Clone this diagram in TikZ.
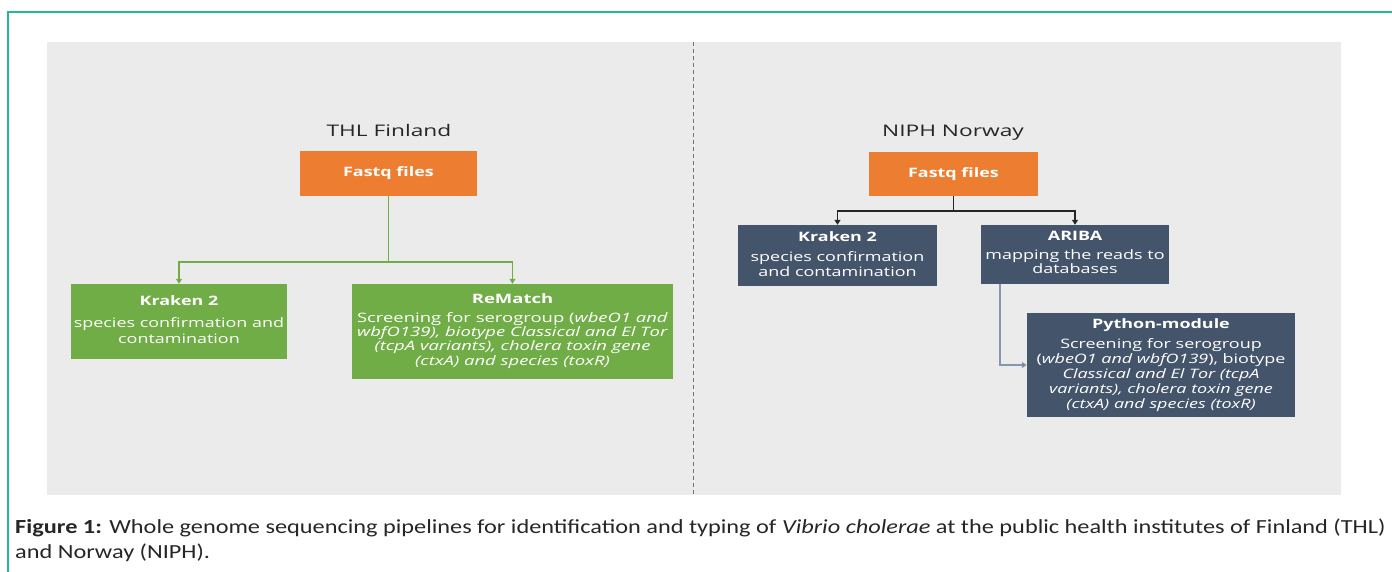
\documentclass[tikz,border=0pt]{standalone}
\usepackage{fontspec}
\setmainfont{Open Sans}
\newfontfamily\capfont{Carlito}
\usepackage{graphicx}
\usetikzlibrary{arrows.meta,calc}
\definecolor{teal1}{RGB}{38,182,154}
\definecolor{panel}{RGB}{235,235,235}
\definecolor{orng}{RGB}{237,125,49}
\definecolor{grn}{RGB}{112,173,71}
\definecolor{slate}{RGB}{68,84,106}
\definecolor{lslate}{RGB}{132,151,176}
\newcommand\sx{1.38}
% #1 stretch, #2 title, #3 body, #4 leading
\newcommand\boxtext[4]{\scalebox{#1}[1]{\fontsize{13}{#4}\selectfont\begin{tabular}{@{}c@{}}\textbf{#2}\\[5pt]#3\end{tabular}}}
\tikzset{
  box/.style={draw=none, inner sep=0pt, text=white, anchor=center},
  obox/.style={box, fill=orng},
  gbox/.style={box, fill=grn},
  sbox/.style={box, fill=slate},
  gline/.style={draw=grn, line width=1.1pt, -{Triangle[length=5pt,width=6pt]}},
  bline/.style={draw=black!85, line width=1.1pt, -{Triangle[length=5pt,width=6pt]}},
  lline/.style={draw=lslate, line width=1.3pt, -{Triangle[length=5pt,width=6pt,fill=black!70]}},
  ttl/.style={font=\fontsize{16}{19}\selectfont, text=black!85, anchor=base},
  captxt/.style={anchor=base west, inner sep=0pt, text=black!85},
}
\begin{document}
\begin{tikzpicture}[x=1pt,y=-1pt]
\useasboundingbox (0,0) rectangle (1392,571);
\fill[white] (0,0) rectangle (1392,571);
% outer teal frame
\draw[teal1, line width=1.5pt] (8,590) -- (8,12) -- (1400,12);
% grey panel
\fill[panel] (47,42) rectangle (1341,495);
\draw[black!55, line width=0.6pt, dash pattern=on 4pt off 3pt] (693,42) -- (693,495);

% titles
\node[ttl] (t1) at (389,136) {\scalebox{1.42}[1]{THL Finland}};
\node[ttl] (t2) at (953,136) {\scalebox{1.42}[1]{NIPH Norway}};

% left pipeline
\node[obox, minimum width=177pt, minimum height=45pt] (fq1) at (388.5,173) {\scalebox{\sx}[1]{\fontsize{13}{15}\selectfont\bfseries Fastq files}};
\node[gbox, minimum width=216pt, minimum height=75pt] (kr1) at (179,321.5) {\boxtext{\sx}{Kraken 2}{species confirmation and\\contamination}{16.5}};
\node[gbox, minimum width=321pt, minimum height=95pt] (rm) at (512.5,331.5) {\boxtext{1.42}{ReMatch}{Screening for serogroup (\textit{wbeO1 and}\\\textit{wbfO139), biotype Classical and El Tor}\\\textit{(tcpA variants), cholera toxin gene}\\\textit{(ctxA) and species (toxR)}}{14}};

\coordinate (j1) at (388.5,262);
\draw[draw=grn, line width=1.1pt] (fq1.south) -- (j1);
\draw[gline] (j1) -| (kr1.north);
\draw[gline] (j1) -| (rm.north);

% right pipeline
\node[obox, minimum width=169pt, minimum height=44pt] (fq2) at (953.5,174) {\scalebox{\sx}[1]{\fontsize{13}{15}\selectfont\bfseries Fastq files}};
\node[sbox, minimum width=199pt, minimum height=61pt] (kr2) at (837.5,255.5) {\boxtext{\sx}{Kraken 2}{species confirmation\\and contamination}{15}};
\node[sbox, minimum width=188pt, minimum height=59pt] (ar) at (1075,254.5) {\boxtext{\sx}{ARIBA}{mapping the reads to\\databases}{14}};
\node[sbox, minimum width=268pt, minimum height=104pt] (py) at (1161,365) {\boxtext{\sx}{Python-module}{Screening for serogroup\\(\textit{wbeO1 and wbfO139}), biotype\\\textit{Classical and El Tor (tcpA}\\\textit{variants), cholera toxin gene}\\\textit{(ctxA) and species (toxR)}}{15}};

\coordinate (j2) at (953.5,211);
\draw[draw=black!85, line width=1.1pt] (fq2.south) -- (j2);
\draw[bline] (j2) -| (kr2.north);
\draw[bline] (j2) -| (ar.north);
\draw[lline] ([xshift=-75pt]ar.south) |- (py.west);

% caption
\node[captxt] (cap1) at (15,533) {\scalebox{1.215}[1]{\capfont\fontsize{20}{24}\selectfont\textbf{Figure 1:} Whole genome sequencing pipelines for identification and typing of \textit{Vibrio cholerae} at the public health institutes of Finland (THL)}};
\node[captxt] (cap2) at (15,558) {\scalebox{1.215}[1]{\capfont\fontsize{20}{24}\selectfont and Norway (NIPH).}};
\end{tikzpicture}
\end{document}
